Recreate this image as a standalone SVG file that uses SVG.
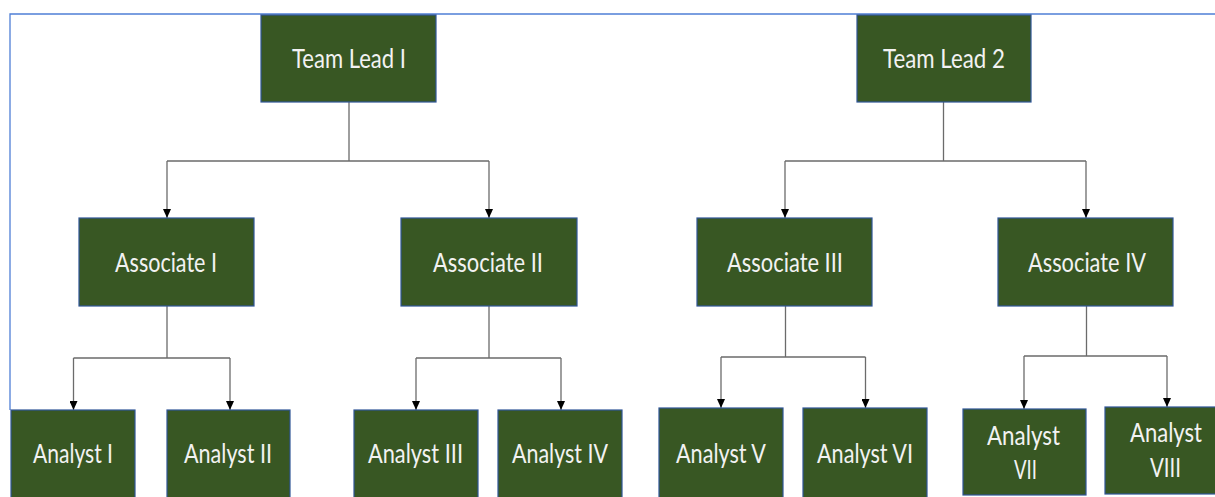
<svg xmlns="http://www.w3.org/2000/svg" width="1215" height="497" viewBox="0 0 1215 497">
<style>
.box{fill:#385723;stroke:#2F5597;stroke-width:1.2}
.lbl{font-family:Lato,"Liberation Sans",sans-serif;font-size:27.5px;fill:#F2F2F2;text-anchor:middle}
.con{fill:none;stroke:#6b6b6b;stroke-width:1.3}
.arr{fill:none;stroke:#6b6b6b;stroke-width:1.3;marker-end:url(#ah)}
</style>
<defs>
<marker id="ah" markerWidth="8" markerHeight="9" refX="4" refY="9" orient="0" markerUnits="userSpaceOnUse" viewBox="0 0 8 9">
<path d="M0,0 L8,0 L4,9 Z" fill="#000"/>
</marker>
</defs>
<rect width="1215" height="497" fill="#fff"/>
<path d="M10,410 L10,14 L1215,14" fill="none" stroke="#4F7FD6" stroke-width="1.3"/>
<g id="connectors">
<path class="con" d="M349,102 V161 M167,161 H489"/>
<path class="arr" d="M167,161 V218"/>
<path class="arr" d="M489,161 V218"/>
<path class="con" d="M943.5,102 V161 M785,161 H1086"/>
<path class="arr" d="M785,161 V218"/>
<path class="arr" d="M1086,161 V218"/>
<path class="con" d="M167,306 V358 M73.5,358 H230"/>
<path class="arr" d="M73.5,358 V410"/>
<path class="arr" d="M230,358 V410"/>
<path class="con" d="M489,306 V358 M416,358 H561"/>
<path class="arr" d="M416,358 V410"/>
<path class="arr" d="M561,358 V410"/>
<path class="con" d="M785.5,306 V357 M721,357 H865.5"/>
<path class="arr" d="M721,357 V408"/>
<path class="arr" d="M865.5,357 V408"/>
<path class="con" d="M1086.5,306 V356 M1024,356 H1167"/>
<path class="arr" d="M1024,356 V409"/>
<path class="arr" d="M1167,356 V407"/>
</g>
<g id="teamlead1"><rect class="box" x="261" y="15" width="175" height="87"/><text class="lbl" x="349" y="68" textLength="114" lengthAdjust="spacingAndGlyphs">Team Lead I</text></g>
<g id="teamlead2"><rect class="box" x="857" y="15" width="174" height="87"/><text class="lbl" x="944" y="68" textLength="122" lengthAdjust="spacingAndGlyphs">Team Lead 2</text></g>
<g id="associate1"><rect class="box" x="79" y="218" width="175" height="88"/><text class="lbl" x="166" y="272" textLength="102" lengthAdjust="spacingAndGlyphs">Associate I</text></g>
<g id="associate2"><rect class="box" x="401" y="218" width="176" height="88"/><text class="lbl" x="488" y="272" textLength="110" lengthAdjust="spacingAndGlyphs">Associate II</text></g>
<g id="associate3"><rect class="box" x="697" y="218" width="175" height="88"/><text class="lbl" x="785" y="272" textLength="116" lengthAdjust="spacingAndGlyphs">Associate III</text></g>
<g id="associate4"><rect class="box" x="998" y="218" width="175" height="88"/><text class="lbl" x="1087" y="272" textLength="118" lengthAdjust="spacingAndGlyphs">Associate IV</text></g>
<g id="analyst1"><rect class="box" x="11" y="410" width="124" height="92"/><text class="lbl" x="73" y="463" textLength="80" lengthAdjust="spacingAndGlyphs">Analyst I</text></g>
<g id="analyst2"><rect class="box" x="167" y="410" width="123" height="92"/><text class="lbl" x="228" y="463" textLength="88" lengthAdjust="spacingAndGlyphs">Analyst II</text></g>
<g id="analyst3"><rect class="box" x="354" y="410" width="124" height="92"/><text class="lbl" x="415.5" y="463" textLength="95" lengthAdjust="spacingAndGlyphs">Analyst III</text></g>
<g id="analyst4"><rect class="box" x="498" y="410" width="124" height="92"/><text class="lbl" x="560" y="463" textLength="96" lengthAdjust="spacingAndGlyphs">Analyst IV</text></g>
<g id="analyst5"><rect class="box" x="659" y="408" width="124" height="94"/><text class="lbl" x="721" y="463" textLength="90" lengthAdjust="spacingAndGlyphs">Analyst V</text></g>
<g id="analyst6"><rect class="box" x="803" y="408" width="124" height="94"/><text class="lbl" x="865" y="463" textLength="96" lengthAdjust="spacingAndGlyphs">Analyst VI</text></g>
<g id="analyst7"><rect class="box" x="963" y="409" width="123" height="86"/><text class="lbl" x="1023.5" y="445" textLength="73" lengthAdjust="spacingAndGlyphs">Analyst</text><text class="lbl" x="1025.5" y="479" textLength="23" lengthAdjust="spacingAndGlyphs">VII</text></g>
<g id="analyst8"><rect class="box" x="1105" y="407" width="123" height="87"/><text class="lbl" x="1166" y="442" textLength="72" lengthAdjust="spacingAndGlyphs">Analyst</text><text class="lbl" x="1165.5" y="477" textLength="31" lengthAdjust="spacingAndGlyphs">VIII</text></g>
</svg>
